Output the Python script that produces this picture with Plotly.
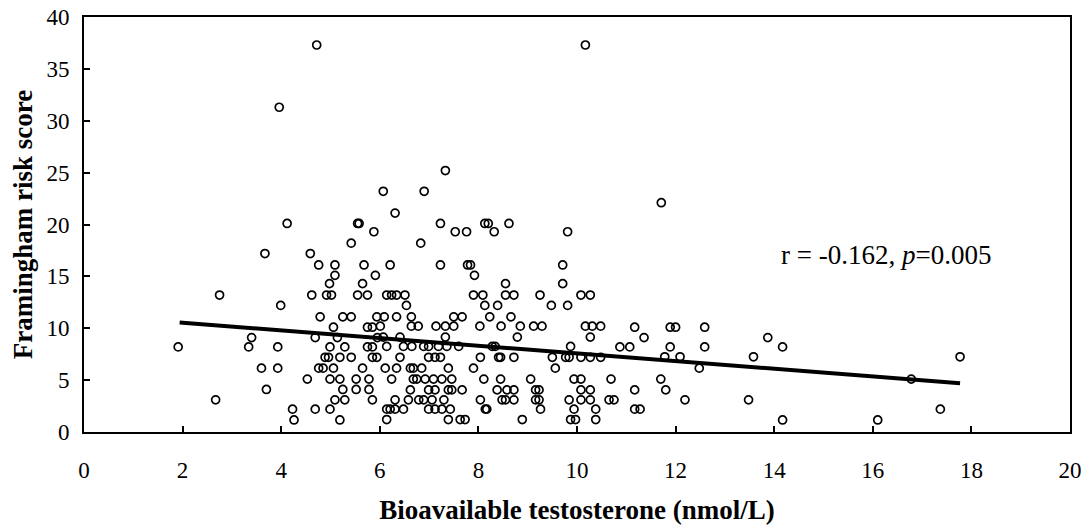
import plotly.graph_objects as go

# Bioavailable testosterone (nmol/L) and Framingham risk score
bt = [
    4.72, 3.96, 10.17, 7.33,
    6.07, 4.12, 5.55, 5.58, 5.88, 5.42, 3.67, 4.59, 4.76, 5.09, 5.68, 5.09, 5.91, 4.98, 5.65,
    2.75, 4.62, 4.92, 5.02, 5.55, 5.75, 3.99, 4.79, 5.25, 5.42, 5.94, 5.06, 5.75, 5.85,
    3.40, 4.69, 5.14, 5.95, 1.91, 3.34, 3.93, 4.99, 5.29, 5.75, 5.85,
    4.89, 4.96, 5.19, 5.42, 5.85, 5.94, 3.60, 3.93, 4.76, 4.85, 5.06, 5.65,
    4.53, 4.99, 5.19, 5.52, 5.78, 3.70, 5.25, 5.52, 5.78, 2.67, 5.09, 5.29, 5.85,
    4.23, 4.69, 4.99, 4.26, 5.19,
    6.90, 6.31, 7.23, 8.13, 8.20, 8.62, 7.53, 7.76, 8.32, 9.81, 6.83,
    6.21, 7.23, 7.78, 7.84, 9.71, 7.92, 8.55, 9.71,
    6.14, 6.24, 6.34, 6.51, 7.90, 8.09, 8.55, 8.72, 9.25, 10.08, 10.27,
    6.54, 8.13, 8.39, 9.48, 9.81,
    6.09, 6.34, 6.64, 7.50, 7.67, 8.23, 8.66,
    6.01, 6.64, 6.78, 7.14, 7.33, 7.50, 8.03, 8.46, 8.85, 9.12, 9.29, 10.17, 10.31, 10.48,
    6.07, 6.41, 7.33, 8.79, 10.27,
    6.14, 6.48, 6.65, 6.89, 6.99, 7.19, 7.36, 7.60, 8.28, 8.34, 9.87,
    6.41, 6.99, 7.12, 7.23, 8.04, 8.41, 8.45, 8.72, 9.50, 9.77, 9.84, 10.08, 10.27, 10.48,
    6.11, 6.34, 6.62, 6.68, 6.85, 7.39, 7.90, 9.56,
    6.24, 6.68, 6.75, 6.92, 7.09, 7.26, 7.46, 8.11, 8.45, 9.06, 9.94, 10.08, 10.69,
    6.62, 6.99, 7.12, 7.39, 7.46, 7.67, 8.38, 8.58, 8.72, 9.16, 9.23, 10.08, 10.27,
    6.31, 6.58, 6.79, 6.89, 7.06, 7.30, 8.04, 8.48, 8.55, 8.72, 9.16, 9.23, 9.84, 10.08, 10.27, 10.65, 10.75,
    6.14, 6.21, 6.31, 6.48, 6.99, 7.12, 7.26, 7.43, 8.14, 8.17, 9.26, 9.94, 10.38,
    6.14, 7.39, 7.63, 7.73, 8.89, 9.87, 9.97, 10.38,
    11.71,
    11.17, 11.89, 12.00, 12.59, 11.36, 13.87, 10.87, 11.07, 11.89, 12.59, 14.17,
    11.78, 12.09, 13.58, 12.48, 11.70, 11.17, 11.80, 12.19, 13.48, 11.17, 11.28, 14.17,
    17.77, 16.78, 17.37, 16.10,
]
frs = [
    37.3, 31.3, 37.3, 25.2,
    23.2, 20.1, 20.1, 20.1, 19.3, 18.2, 17.2, 17.2, 16.1, 16.1, 16.1, 15.1, 15.1, 14.3, 14.3,
    13.2, 13.2, 13.2, 13.2, 13.2, 13.2, 12.2, 11.1, 11.1, 11.1, 11.1, 10.1, 10.1, 10.1,
    9.1, 9.1, 9.1, 9.1, 8.2, 8.2, 8.2, 8.2, 8.2, 8.2, 8.2,
    7.2, 7.2, 7.2, 7.2, 7.2, 7.2, 6.15, 6.15, 6.15, 6.15, 6.15, 6.15,
    5.1, 5.1, 5.1, 5.1, 5.1, 4.1, 4.1, 4.1, 4.1, 3.1, 3.1, 3.1, 3.1,
    2.2, 2.2, 2.2, 1.16, 1.16,
    23.2, 21.1, 20.1, 20.1, 20.1, 20.1, 19.3, 19.3, 19.3, 19.3, 18.2,
    16.1, 16.1, 16.1, 16.1, 16.1, 15.1, 14.3, 14.3,
    13.2, 13.2, 13.2, 13.2, 13.2, 13.2, 13.2, 13.2, 13.2, 13.2, 13.2,
    12.2, 12.2, 12.2, 12.2, 12.2,
    11.1, 11.1, 11.1, 11.1, 11.1, 11.1, 11.1,
    10.2, 10.2, 10.2, 10.2, 10.2, 10.2, 10.2, 10.2, 10.2, 10.2, 10.2, 10.2, 10.2, 10.2,
    9.15, 9.15, 9.15, 9.15, 9.15,
    8.25, 8.25, 8.25, 8.25, 8.25, 8.25, 8.25, 8.25, 8.25, 8.25, 8.25,
    7.2, 7.2, 7.2, 7.2, 7.2, 7.2, 7.2, 7.2, 7.2, 7.2, 7.2, 7.2, 7.2, 7.2,
    6.15, 6.15, 6.15, 6.15, 6.15, 6.15, 6.15, 6.15,
    5.1, 5.1, 5.1, 5.1, 5.1, 5.1, 5.1, 5.1, 5.1, 5.1, 5.1, 5.1, 5.1,
    4.06, 4.06, 4.06, 4.06, 4.06, 4.06, 4.06, 4.06, 4.06, 4.06, 4.06, 4.06, 4.06,
    3.1, 3.1, 3.1, 3.1, 3.1, 3.1, 3.1, 3.1, 3.1, 3.1, 3.1, 3.1, 3.1, 3.1, 3.1, 3.1, 3.1,
    2.2, 2.2, 2.2, 2.2, 2.2, 2.2, 2.2, 2.2, 2.2, 2.2, 2.2, 2.2, 2.2,
    1.2, 1.2, 1.2, 1.2, 1.2, 1.2, 1.2, 1.2,
    22.1,
    10.1, 10.1, 10.1, 10.1, 9.1, 9.1, 8.2, 8.2, 8.2, 8.2, 8.2,
    7.25, 7.25, 7.25, 6.15, 5.1, 4.06, 4.06, 3.1, 3.1, 2.2, 2.2, 1.16,
    7.25, 5.1, 2.2, 1.16,
]

# fitted regression line end points
fit_x = [1.94, 17.77]
fit_y = [10.56, 4.70]

x_ticks = [0, 2, 4, 6, 8, 10, 12, 14, 16, 18, 20]
y_ticks = [0, 5, 10, 15, 20, 25, 30, 35, 40]

FONT = "Liberation Serif, Times New Roman, serif"

fig = go.Figure()
fig.add_trace(go.Scatter(
    x=bt, y=frs, mode="markers",
    marker=dict(symbol="circle-open", size=8, color="black", line=dict(width=1.7, color="black")),
    showlegend=False, cliponaxis=False,
))
fig.add_trace(go.Scatter(
    x=fit_x, y=fit_y, mode="lines",
    line=dict(color="black", width=4),
    showlegend=False,
))

fig.add_annotation(
    x=14.1, y=17.1, xref="x", yref="y",
    text="r = -0.162, <i>p</i>=0.005",
    showarrow=False, xanchor="left", yanchor="middle",
    font=dict(family=FONT, size=27, color="black"),
)

axis_common = dict(
    showgrid=False, zeroline=False, automargin=False,
    showline=True, linecolor="black", linewidth=2, mirror=True,
    ticks="inside", ticklen=6, tickwidth=1.5, tickcolor="black",
    tickfont=dict(family=FONT, size=23, color="black"),
    ticklabeloverflow="allow",
)

fig.update_xaxes(
    range=[0, 20], tickvals=x_ticks, ticktext=[str(v) for v in x_ticks],
    ticklabelstandoff=16,
    title=dict(text="<b>Bioavailable testosterone (nmol/L)</b>",
               font=dict(family=FONT, size=27, color="black"), standoff=19),
    **axis_common,
)
fig.update_yaxes(
    range=[0, 40], tickvals=y_ticks, ticktext=[str(v) for v in y_ticks],
    ticklabelstandoff=8,
    title=dict(text="<b>Framingham risk score</b>",
               font=dict(family=FONT, size=27, color="black"), standoff=6),
    **axis_common,
)

# the page adds an 8px body margin, so the figure is sized to fit the window
fig.update_layout(
    width=1081, height=522,
    margin=dict(l=76, r=19, t=9, b=98),
    plot_bgcolor="white", paper_bgcolor="white",
)

fig.write_html("out.html")
